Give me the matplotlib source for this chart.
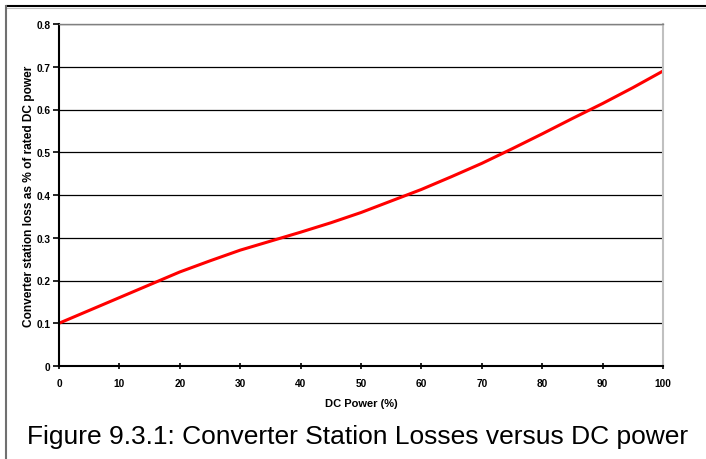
import matplotlib.pyplot as plt
from matplotlib.lines import Line2D

# data
dc_power = [0, 5, 10, 15, 20, 25, 30, 35, 40, 45, 50, 55, 60, 65, 70, 75, 80, 85, 90, 95, 100]
station_loss = [0.10, 0.13, 0.16, 0.19, 0.22, 0.246, 0.271, 0.292, 0.313, 0.335, 0.359,
                0.386, 0.413, 0.443, 0.474, 0.508, 0.543, 0.579, 0.614, 0.651, 0.69]
x_ticks = [0, 10, 20, 30, 40, 50, 60, 70, 80, 90, 100]
y_ticks = [0, 0.1, 0.2, 0.3, 0.4, 0.5, 0.6, 0.7, 0.8]
y_tick_labels = ["0", "0.1", "0.2", "0.3", "0.4", "0.5", "0.6", "0.7", "0.8"]

plt.rcParams["font.family"] = ["Liberation Sans", "DejaVu Sans"]

W, H = 706, 460
fig = plt.figure(figsize=(W / 100, H / 100), dpi=100)
ax = fig.add_axes([59 / W, 1 - 367 / H, 604 / W, 342 / H])

ax.plot(dc_power, station_loss, color="#ff0000", lw=2.2,
        solid_capstyle="butt", solid_joinstyle="round")

ax.set_xlim(0, 100)
ax.set_ylim(0, 0.8)
ax.set_xticks(x_ticks)
ax.set_yticks(y_ticks)
ax.set_yticklabels(y_tick_labels)
ax.yaxis.grid(True, color="black", lw=0.9)
ax.set_axisbelow(True)

ax.tick_params(axis="y", direction="out", length=4, width=1.2, labelsize=7.3, pad=2)
ax.tick_params(axis="x", direction="inout", length=5, width=1.2, labelsize=7.3, pad=6)
for lab in ax.get_xticklabels() + ax.get_yticklabels():
    lab.set_fontweight("bold")

ax.spines["left"].set_linewidth(1.5)
ax.spines["bottom"].set_linewidth(1.5)
ax.spines["top"].set_color("#808080")
ax.spines["top"].set_linewidth(1.0)
ax.spines["right"].set_color("#c0c0c0")
ax.spines["right"].set_linewidth(1.5)

ax.set_xlabel("DC Power (%)", fontsize=8, fontweight="bold", labelpad=7)
fig.text(29 / W, 1 - 196 / H, "Converter station loss as % of rated DC power",
         rotation=90, ha="center", va="center", fontsize=8.6, fontweight="bold")

fig.text(358 / W, 1 - 437 / H, "Figure 9.3.1: Converter Station Losses versus DC power",
         ha="center", va="center", fontsize=19)

# outer frame lines
fig.add_artist(Line2D([7 / W, 1], [1 - 7 / H, 1 - 7 / H], color="black", lw=1.5))
fig.add_artist(Line2D([7 / W, 1], [1 - 9 / H, 1 - 9 / H], color="#c0c0c0", lw=0.8))
fig.add_artist(Line2D([6 / W, 6 / W], [0, 1 - 7 / H], color="#707070", lw=1.5))

fig.savefig("out.png", dpi=100)
